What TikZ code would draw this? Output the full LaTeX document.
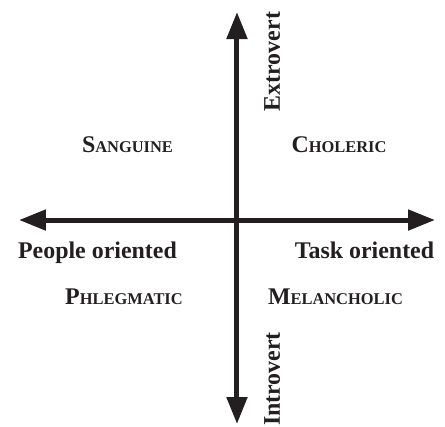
\documentclass[tikz,border=0pt]{standalone}
\usepackage{fontspec}
\setmainfont{Liberation Serif}
\usepackage{tikz}
\usetikzlibrary{arrows.meta}
\definecolor{ink}{RGB}{35,31,32}
\newcommand{\smcap}[2]{#1{\fontsize{8.25pt}{10pt}\selectfont#2}}

\begin{document}
\begin{tikzpicture}[>={Triangle[length=13.5bp,width=10bp]},ax/.style={<->,line width=2.5bp,draw=ink},lbl/.style={font=\bfseries\fontsize{12pt}{14pt}\selectfont,text=ink,inner sep=0pt,anchor=base}]
\useasboundingbox (-4.180,-3.634) rectangle (3.669,3.881);
\coordinate (n) at (0,3.669);
\coordinate (s) at (0,-3.598);
\coordinate (w) at (-3.845,0);
\coordinate (e) at (3.493,0);
\draw[ax] (w) -- (e);
\draw[ax] (s) -- (n);
\node[lbl,rotate=90] (ext) at (0.758,2.796) {Extrovert};
\node[lbl,rotate=90] (int) at (0.758,-2.805) {Introvert};
\node[lbl] (san) at (-1.931,1.199) {\smcap{S}{ANGUINE}};
\node[lbl] (cho) at (1.799,1.199) {\smcap{C}{HOLERIC}};
\node[lbl] (ppl) at (-2.461,-0.670) {People oriented};
\node[lbl] (tsk) at (2.249,-0.670) {Task oriented};
\node[lbl] (phl) at (-1.993,-1.482) {\smcap{P}{HLEGMATIC}};
\node[lbl] (mel) at (1.737,-1.482) {\smcap{M}{ELANCHOLIC}};
\end{tikzpicture}
\end{document}
